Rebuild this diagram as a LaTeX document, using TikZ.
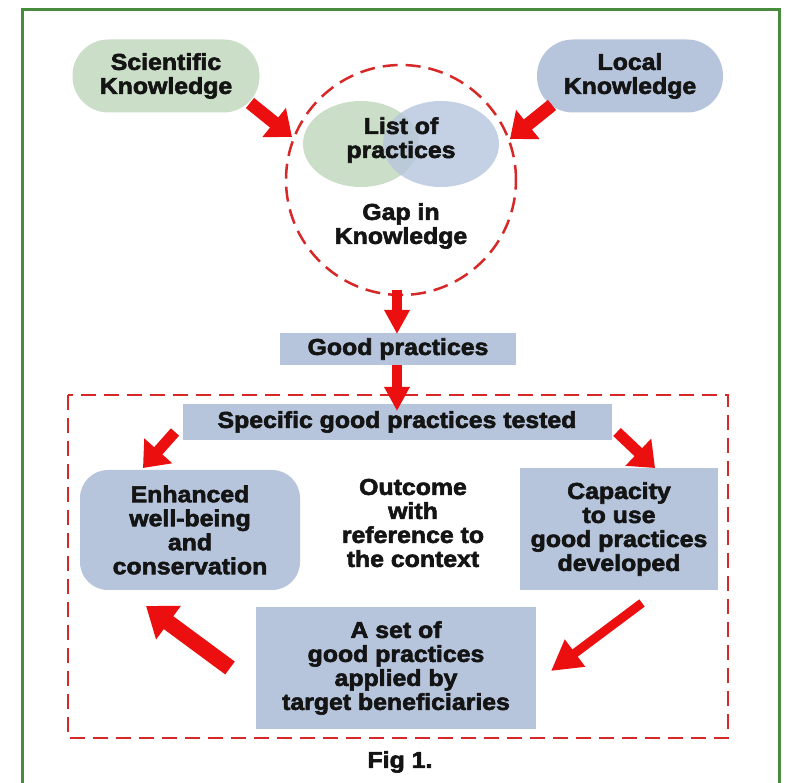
\documentclass[tikz,border=0pt]{standalone}
\usepackage{fontspec}
\newfontfamily\labfont[FakeStretch=1.08,FakeBold=2.6]{Liberation Sans}
\usetikzlibrary{arrows.meta,shapes.geometric}
\definecolor{frameg}{RGB}{70,140,60}
\definecolor{boxblue}{RGB}{182,197,220}
\definecolor{boxgreen}{RGB}{202,222,200}
\definecolor{dashred}{RGB}{215,40,40}
\definecolor{arrred}{RGB}{235,15,15}
\tikzset{
  lab/.style={font=\labfont\bfseries\fontsize{23}{24}\selectfont, text=black!92, align=center, inner sep=0pt},
  bluebox/.style={lab, fill=boxblue, draw=none},
  pill/.style={lab, draw=none, rounded corners=36pt, minimum height=73pt},
  bigarrow/.style={arrred, line width=13pt, -{Triangle[width=36pt,length=23pt]}},
  downarrow/.style={arrred, line width=10pt, -{Triangle[width=24pt,length=24pt]}},
  reddash/.style={dashred, line width=2.5pt, dash pattern=on 15pt off 8pt},
}
\begin{document}
\begin{tikzpicture}[x=1pt,y=-1pt]
\useasboundingbox (0,0) rectangle (788,783);
\fill[white] (0,0) rectangle (788,783);
% green frame
\draw[frameg, line width=3pt] (22,790) -- (22,10) -- (779,10) -- (779,790);
% top pills
\node[pill, fill=boxgreen, minimum width=187pt] (sci) at (166,76) {Scientific\\Knowledge};
\node[pill, fill=boxblue, minimum width=186pt] (loc) at (630,76) {Local\\Knowledge};
% venn
\fill[boxgreen] (361,144) ellipse [x radius=58, y radius=43];
\fill[boxblue, fill opacity=0.8] (441,144) ellipse [x radius=58, y radius=43];
\node[lab] (list) at (401,140) {List of\\practices};
\node[lab] (gap) at (401,226) {Gap in\\Knowledge};
\node[circle, reddash, draw, minimum size=230pt, inner sep=0pt] (circ) at (401,180) {};
% good practices
\node[bluebox, minimum width=236pt, minimum height=32pt] (good) at (398,349) {Good practices};
% dashed rectangle
\draw[reddash] (68,395) rectangle (728,738);
\node[bluebox, minimum width=429pt, minimum height=36pt] (spec) at (397,422) {Specific good practices tested};
\node[bluebox, rounded corners=28pt, minimum width=220pt, minimum height=120pt] (enh) at (190,530) {Enhanced\\well-being\\and\\conservation};
\node[lab] (out) at (413,523) {Outcome\\with\\reference to\\the context};
\node[bluebox, minimum width=198pt, minimum height=122pt] (cap) at (619,529) {Capacity\\to use\\good practices\\developed};
\node[bluebox, minimum width=280pt, minimum height=121pt] (aset) at (396,668) {A set of\\good practices\\applied by\\target beneficiaries};
\node[lab] (fig) at (400,762) {Fig 1.};
% arrow end points
\coordinate (a1s) at (250,103); \coordinate (a1e) at (292,137);
\coordinate (a2s) at (552,105); \coordinate (a2e) at (510,139);
\coordinate (a3s) at (397,290); \coordinate (a3e) at (397,334);
\coordinate (a4s) at (397,365); \coordinate (a4e) at (397,411);
\coordinate (a5s) at (175,432); \coordinate (a5e) at (143,468);
\coordinate (a6s) at (617,432); \coordinate (a6e) at (655,468);
\coordinate (a7s) at (230,668); \coordinate (a7e) at (146,606);
\coordinate (a8s) at (642,603); \coordinate (a8e) at (551,671);
\draw[bigarrow] (a1s) -- (a1e);
\draw[bigarrow] (a2s) -- (a2e);
\draw[downarrow] (a3s) -- (a3e);
\draw[downarrow] (a4s) -- (a4e);
\draw[bigarrow, line width=11pt] (a5s) -- (a5e);
\draw[bigarrow, line width=11pt] (a6s) -- (a6e);
\draw[arrred, line width=16pt, -{Triangle[width=40pt,length=28pt]}] (a7s) -- (a7e);
\draw[arrred, line width=9pt, -{Triangle[width=32pt,length=30pt]}] (a8s) -- (a8e);
\end{tikzpicture}
\end{document}
